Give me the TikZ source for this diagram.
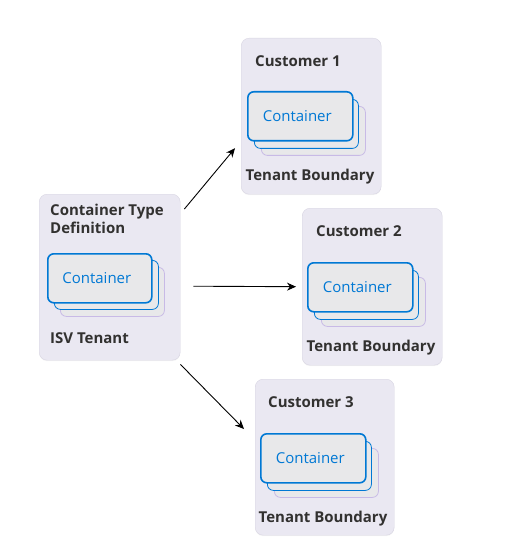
\documentclass[tikz,border=0pt]{standalone}
\usepackage{fontspec}
\setmainfont{Open Sans}
\usepackage{xcolor}
\usepackage{tikz}
\usetikzlibrary{shapes, arrows.meta, positioning, calc, shadows}

\definecolor{tenantfill}{RGB}{234,232,242}
\definecolor{tenantline}{RGB}{216,213,226}
\definecolor{cardfill}{RGB}{232,232,234}
\definecolor{azure}{RGB}{0,120,212}
\definecolor{lilac}{RGB}{200,186,230}
\definecolor{ink}{RGB}{50,49,48}

\begin{document}
\begin{tikzpicture}[x=1pt, y=-1pt,
    tenant/.style={rectangle, draw=tenantline, fill=tenantfill, rounded corners=8pt, anchor=north west,
        minimum width=140pt, minimum height=156pt, inner sep=0pt,
        drop shadow={shadow xshift=0pt, shadow yshift=-1pt, opacity=0.08}},
    card/.style={rectangle, draw=azure, line width=1.6pt, fill=cardfill, rounded corners=6pt, anchor=north west,
        minimum width=104pt, minimum height=49pt, inner sep=0pt, text=azure, font=\fontsize{15}{17}\selectfont},
    backcard/.style={card, line width=0.8pt},
    lastcard/.style={card, draw=lilac, line width=0.8pt},
    title/.style={anchor=base west, inner sep=0pt, text=ink, font=\fontsize{15}{18}\selectfont\bfseries},
    footer/.style={anchor=base, inner sep=0pt, text=ink, font=\fontsize{15}{18}\selectfont\bfseries},
    line/.style={draw, line width=0.9pt, -{Stealth[length=9pt, width=8pt]}}]

    \useasboundingbox (0,0) rectangle (530,548);

    % ISV tenant
    \node [tenant, minimum width=141pt, minimum height=166pt] (isv) at (39,194) {};
    \node [title] (typedef) at (50,215) {Container Type};
    \node [title] (typedef2) at (50,233) {Definition};
    \node [lastcard] (isvc3) at (60,267) {};
    \node [backcard] (isvc2) at (54,260) {};
    \node [card] (isvc1) at (47,253) {\hspace*{-6pt}Container};
    \node [title] (isvname) at (50,343) {ISV Tenant};

    % customer 1
    \node [tenant] (cust1) at (241,38) {};
    \node [title] (cust1name) at (255,67) {Customer 1};
    \node [lastcard] (cust1c3) at (261,106) {};
    \node [backcard] (cust1c2) at (254,99) {};
    \node [card, minimum width=105pt] (cust1c1) at (247,91) {\hspace*{-6pt}Container};
    \node [footer] (cust1foot) at (310,180) {Tenant Boundary};

    % customer 2
    \node [tenant, minimum height=157pt] (cust2) at (302,208) {};
    \node [title] (cust2name) at (316,236) {Customer 2};
    \node [lastcard] (cust2c3) at (321,277) {};
    \node [backcard] (cust2c2) at (314,270) {};
    \node [card, minimum width=105pt] (cust2c1) at (307,262) {\hspace*{-6pt}Container};
    \node [footer] (cust2foot) at (371,351) {Tenant Boundary};

    % customer 3
    \node [tenant, minimum width=139pt] (cust3) at (255,379) {};
    \node [title] (cust3name) at (268,407) {Customer 3};
    \node [lastcard] (cust3c3) at (274,448) {};
    \node [backcard] (cust3c2) at (267,441) {};
    \node [card, minimum width=105pt] (cust3c1) at (260,433) {\hspace*{-6pt}Container};
    \node [footer] (cust3foot) at (323,522) {Tenant Boundary};

    \path [line] ($(isv.north east)+(4,15)$) -- ($(cust1.west)+(-6,32)$);
    \path [line] ($(isv.east)+(13,9)$) -- ($(cust2.west)+(-6,0)$);
    \path [line] ($(isv.south east)+(0,4)$) -- ($(cust3.north west)+(-11,50)$);

\end{tikzpicture}
\end{document}
